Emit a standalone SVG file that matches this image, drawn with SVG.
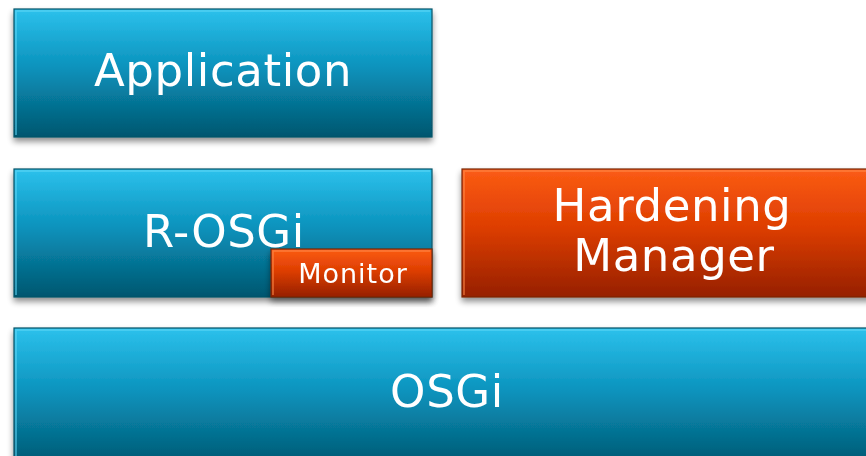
<svg xmlns="http://www.w3.org/2000/svg" width="866" height="456" viewBox="0 0 866 456">
  <style>
    .lbl { font-family: "DejaVu Sans", "Liberation Sans", sans-serif; fill: #ffffff; text-anchor: middle; }
    .big { font-size: 45px; letter-spacing: 0.6px; }
    .small { font-size: 27px; letter-spacing: 1px; }
    .blue { fill: url(#gBlue); stroke: #0b5468; stroke-width: 1.2; }
    .orange { fill: url(#gOrange); stroke: #7a2408; stroke-width: 1.2; }
    .hiB { fill: none; stroke: #5fd6f5; stroke-opacity: 0.7; stroke-width: 1.5; }
    .hiO { fill: none; stroke: #ff8a4a; stroke-opacity: 0.7; stroke-width: 1.5; }
  </style>
  <defs>
    <linearGradient id="gBlue" x1="0" y1="0" x2="0" y2="1">
      <stop offset="0" stop-color="#2cc1ec"/>
      <stop offset="0.45" stop-color="#0b93bd"/>
      <stop offset="1" stop-color="#01566f"/>
    </linearGradient>
    <linearGradient id="gOrange" x1="0" y1="0" x2="0" y2="1">
      <stop offset="0" stop-color="#fb5c14"/>
      <stop offset="0.45" stop-color="#de3e02"/>
      <stop offset="1" stop-color="#962003"/>
    </linearGradient>
    <filter id="shadow" x="-10%" y="-10%" width="120%" height="130%">
      <feGaussianBlur in="SourceAlpha" stdDeviation="3"/>
      <feOffset dx="0" dy="4" result="b"/>
      <feComponentTransfer><feFuncA type="linear" slope="0.45"/></feComponentTransfer>
      <feMerge><feMergeNode/><feMergeNode in="SourceGraphic"/></feMerge>
    </filter>
  </defs>

  <rect width="866" height="456" fill="#ffffff"/>

  <g id="application" filter="url(#shadow)">
    <rect class="blue" x="14" y="9" width="418" height="128"/>
    <polyline class="hiB" points="16,135 16,11 430,11"/>
    <text class="lbl big" x="223" y="86">Application</text>
  </g>

  <g id="r-osgi" filter="url(#shadow)">
    <rect class="blue" x="14" y="169" width="418" height="128"/>
    <polyline class="hiB" points="16,295 16,171 430,171"/>
    <text class="lbl big" x="224" y="247">R-OSGi</text>
  </g>

  <g id="monitor" filter="url(#shadow)">
    <rect class="orange" x="271" y="249" width="161" height="48"/>
    <polyline class="hiO" points="273,295 273,251 430,251"/>
    <text class="lbl small" x="353" y="283">Monitor</text>
  </g>

  <g id="hardening-manager" filter="url(#shadow)">
    <rect class="orange" x="462" y="169" width="420" height="128"/>
    <polyline class="hiO" points="464,295 464,171 880,171"/>
    <text class="lbl big" x="672" y="221">Hardening</text>
    <text class="lbl big" x="674" y="271">Manager</text>
  </g>

  <g id="osgi" filter="url(#shadow)">
    <rect class="blue" x="14" y="328" width="868" height="140"/>
    <polyline class="hiB" points="16,466 16,330 880,330"/>
    <text class="lbl big" x="447" y="407">OSGi</text>
  </g>

  <g id="connectors"/>
</svg>
